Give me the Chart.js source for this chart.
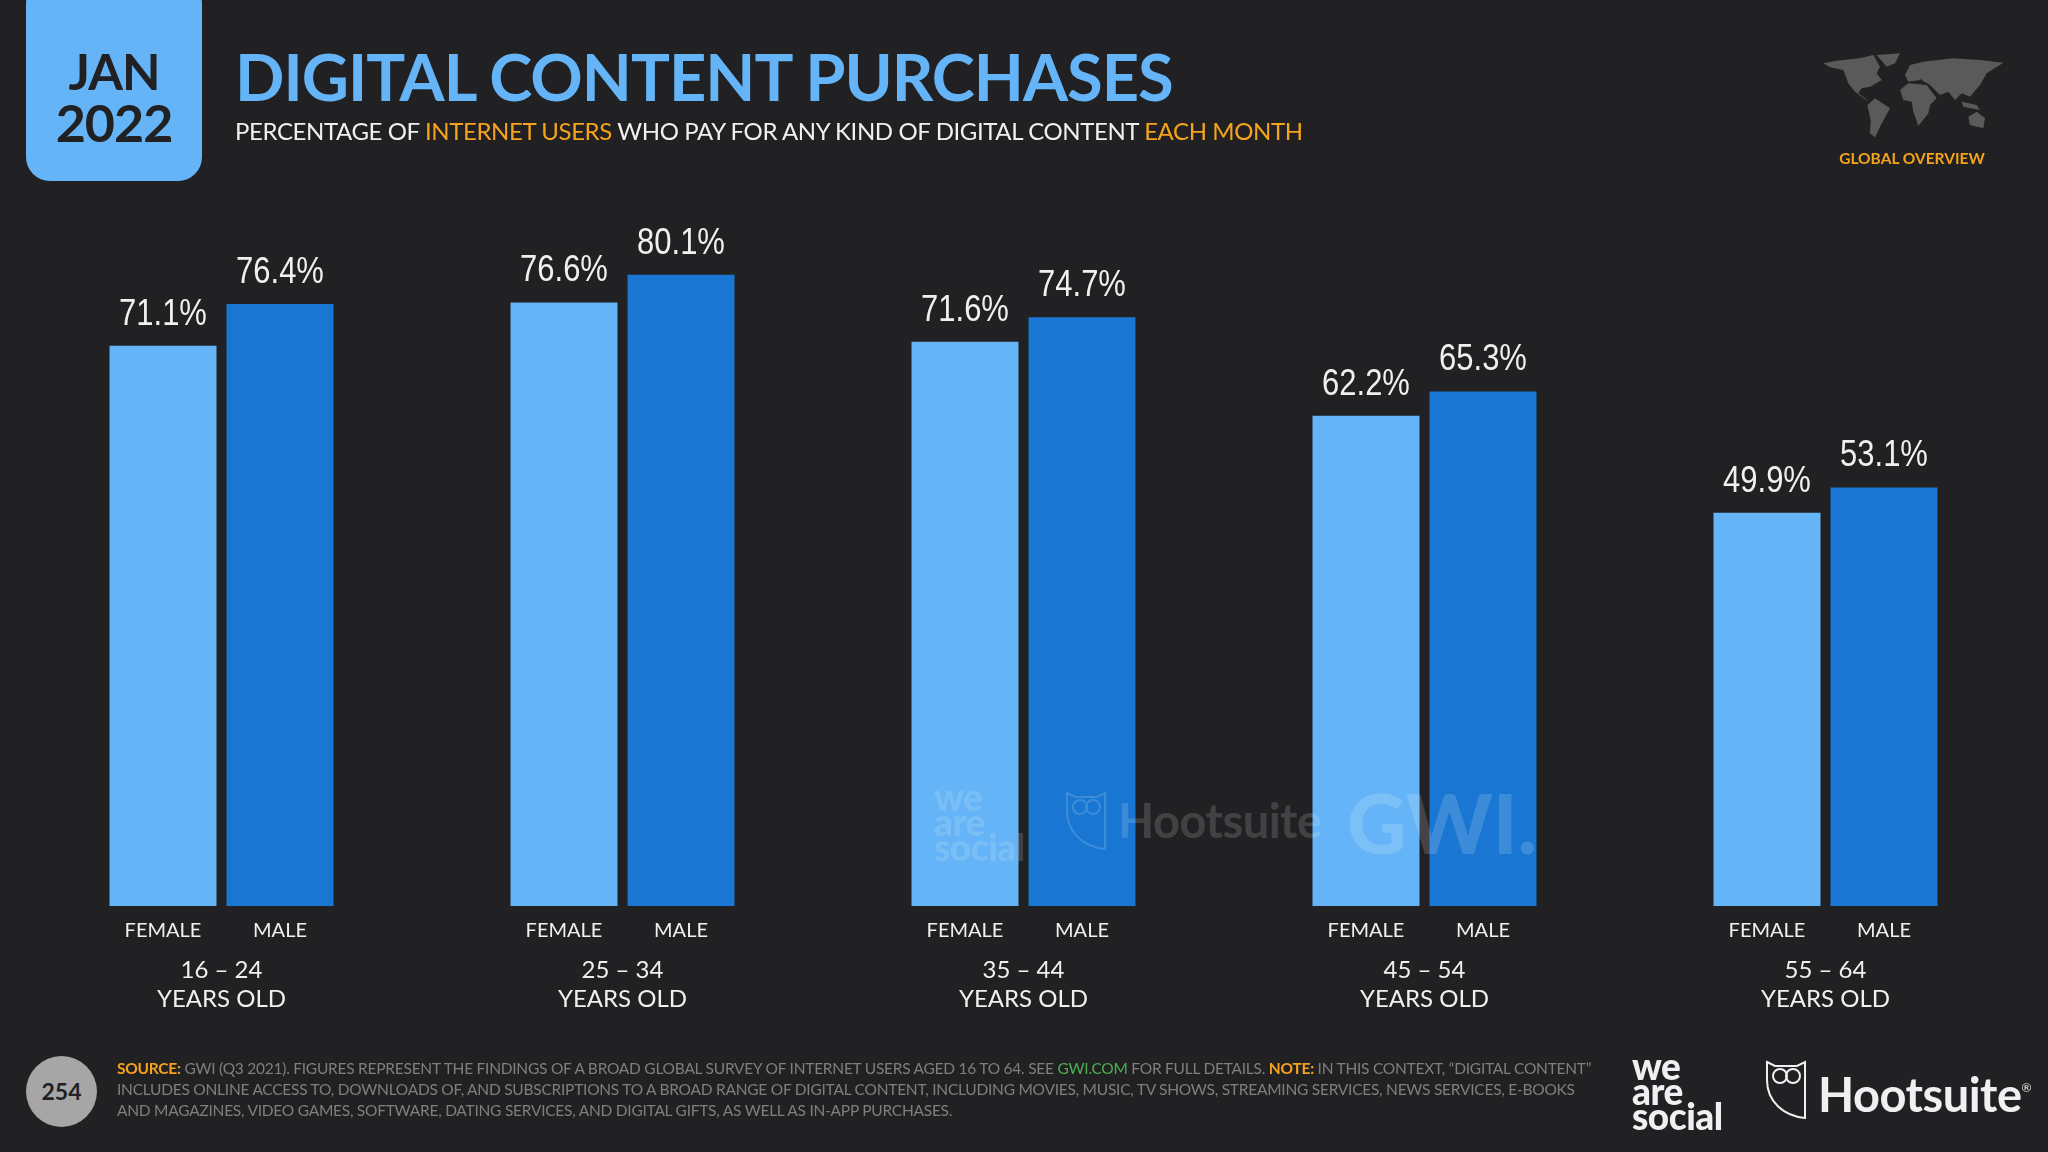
<!DOCTYPE html>
<html>
<head>
<meta charset="utf-8">
<title>Digital content purchases</title>
<script src="https://cdn.jsdelivr.net/npm/chart.js@4"></script>
<style>
  html, body { margin: 0; background: #212123; }
  #page { position: relative; width: 2048px; height: 1152px; overflow: hidden; background: #212123; font-family: Lato, sans-serif; }
  #page canvas { position: absolute; left: 0; top: 0; }
  .t { position: absolute; white-space: nowrap; }
  .o { color: #f5a31c; }
  #badge { position: absolute; left: 26px; top: -20px; width: 176px; height: 201px; background: #64b4f7; border-radius: 24px; }
  #jan, #year { left: 26px; width: 176px; text-align: center; color: #212123; font-weight: 700; font-size: 50px; line-height: 50px; letter-spacing: -1px; }
  #jan { top: 46px; }
  #year { top: 97px; font-size: 52px; }
  #title { left: 235px; top: 38px; font-size: 65px; line-height: 76px; font-weight: 700; color: #64b4f7; letter-spacing: -1px; transform-origin: left; }
  #sub { left: 235px; top: 116px; font-size: 24px; line-height: 30px; color: #f0f0f0; letter-spacing: -.4px; }
  #sub .o, #notes .o { font-weight: 400; }
  #map { position: absolute; left: 1780px; top: 30px; width: 268px; height: 150px; }
  #region { left: 1780px; width: 264px; top: 149px; text-align: center; font-size: 15.5px; line-height: 18px; font-weight: 700; color: #f5a31c; }
  #pagenum { position: absolute; left: 26px; top: 1056px; width: 71px; height: 71px; line-height: 71px; border-radius: 50%; background: #a6a6a6; color: #212123; text-align: center; font-weight: 700; font-size: 23px; }
  #notes { left: 117px; top: 1058px; font-size: 15.5px; line-height: 21px; color: #7f7f7f; letter-spacing: -.25px; }
  #notes b { color: #f5a31c; }
  #notes .g { color: #4caf50; }
  .ws { font-weight: 900; color: #f0f0f2; font-size: 37px; line-height: 25px; letter-spacing: -.5px; }
  .hs { font-weight: 700; color: #f0f0f2; font-size: 47px; line-height: 50px; letter-spacing: -.5px; }
  .mark { opacity: .16; }
</style>
</head>
<body>
<div id="page">
  <canvas id="chart" width="2048" height="1152"></canvas>

  <div id="badge"></div>
  <div class="t" id="jan">JAN</div>
  <div class="t" id="year">2022</div>
  <div class="t" id="title">DIGITAL CONTENT PURCHASES</div>
  <div class="t" id="sub">PERCENTAGE OF <span class="o">INTERNET USERS</span> WHO PAY FOR ANY KIND OF DIGITAL CONTENT <span class="o">EACH MONTH</span></div>

  <svg id="map" viewBox="0 0 804 450" fill="#5a5a5a">
    <polygon points="130,100 170,92 240,85 280,75 300,110 290,130 305,150 270,170 245,175 235,190 255,205 265,215 225,185 205,160 190,120 150,112"/>
    <polygon points="290,75 360,70 345,100 320,110"/>
    <polygon points="262,225 285,205 330,235 300,290 285,322 270,310 272,270"/>
    <polygon points="360,180 385,160 440,165 470,205 450,225 445,250 415,288 400,245 395,215 370,210"/>
    <polygon points="375,135 390,105 430,95 440,130 420,150 385,155"/>
    <polygon points="430,95 520,85 600,90 670,98 620,130 600,165 570,200 545,190 525,210 505,185 480,195 450,165 425,150"/>
    <polygon points="565,260 590,245 615,265 610,295 570,285"/>
    <polygon points="545,215 590,225 600,240 550,230"/>
  </svg>
  <div class="t" id="region">GLOBAL OVERVIEW</div>

  <div class="t mark ws" style="left:934px;top:784px;">we<br>are<br>social</div>
  <svg class="mark" style="position:absolute;left:1066px;top:791px;" width="40" height="60" viewBox="0 0 40 60" fill="none" stroke="#fff" stroke-width="2">
    <path d="M1 2 L9 6 H31 L39 2 V58 C18 56 1 42 1 20 Z"/><circle cx="14" cy="16" r="7"/><circle cx="27" cy="16" r="7"/>
  </svg>
  <div class="t mark hs" style="left:1118px;top:795px;">Hootsuite</div>
  <div class="t mark" style="left:1347px;top:772px;font-size:82px;line-height:100px;font-weight:900;color:#fff;">GWI.</div>

  <div id="pagenum">254</div>
  <div class="t" id="notes"><b>SOURCE:</b> GWI (Q3 2021). FIGURES REPRESENT THE FINDINGS OF A BROAD GLOBAL SURVEY OF INTERNET USERS AGED 16 TO 64. SEE <span class="g">GWI.COM</span> FOR FULL DETAILS. <b>NOTE:</b> IN THIS CONTEXT, “DIGITAL CONTENT”<br>INCLUDES ONLINE ACCESS TO, DOWNLOADS OF, AND SUBSCRIPTIONS TO A BROAD RANGE OF DIGITAL CONTENT, INCLUDING MOVIES, MUSIC, TV SHOWS, STREAMING SERVICES, NEWS SERVICES, E-BOOKS<br>AND MAGAZINES, VIDEO GAMES, SOFTWARE, DATING SERVICES, AND DIGITAL GIFTS, AS WELL AS IN-APP PURCHASES.</div>

  <div class="t ws" style="left:1632px;top:1053px;">we<br>are<br>social</div>
  <svg style="position:absolute;left:1766px;top:1060px;" width="40" height="60" viewBox="0 0 40 60" fill="none" stroke="#f0f0f2" stroke-width="2">
    <path d="M1 2 L9 6 H31 L39 2 V58 C18 56 1 42 1 20 Z"/><circle cx="14" cy="16" r="7"/><circle cx="27" cy="16" r="7"/>
  </svg>
  <div class="t hs" style="left:1818px;top:1063px;">Hootsuite<span style="font-size:12px;vertical-align:20px;font-weight:400;">®</span></div>
</div>

<script>
const ageGroups = ['16 – 24', '25 – 34', '35 – 44', '45 – 54', '55 – 64'];
const ageSuffix = 'YEARS OLD';
const seriesNames = ['FEMALE', 'MALE'];
const femaleValues = [71.1, 76.6, 71.6, 62.2, 49.9];
const maleValues = [76.4, 80.1, 74.7, 65.3, 53.1];

const LIGHT_BLUE = '#64b4f7';
const DARK_BLUE = '#1976d2';
const TEXT = '#f0f0f0';

// value above each bar and the series name under it
const barLabels = {
    id: 'barLabels',
    afterDatasetsDraw(chart) {
        const ctx = chart.ctx;
        const bottom = chart.chartArea.bottom;
        ctx.save();
        ctx.textAlign = 'center';
        ctx.fillStyle = TEXT;
        chart.data.datasets.forEach((ds, i) => {
            chart.getDatasetMeta(i).data.forEach((bar, j) => {
                ctx.save();
                ctx.translate(bar.x, bar.y - 13);
                ctx.scale(0.86, 1);
                ctx.textBaseline = 'bottom';
                ctx.font = '400 36px "Liberation Sans Narrow", "Liberation Sans", sans-serif';
                ctx.fillText(ds.data[j].toFixed(1) + '%', 0, 0);
                ctx.restore();

                ctx.textBaseline = 'middle';
                ctx.font = '400 20px Lato, sans-serif';
                ctx.fillText(ds.label, bar.x, bottom + 25);
            });
        });
        ctx.restore();
    }
};

new Chart(document.getElementById('chart'), {
    type: 'bar',
    data: {
        labels: ageGroups.map(a => [a, ageSuffix]),
        datasets: [
            { label: seriesNames[0], data: femaleValues, backgroundColor: LIGHT_BLUE },
            { label: seriesNames[1], data: maleValues, backgroundColor: DARK_BLUE }
        ]
    },
    options: {
        responsive: false,
        animation: false,
        devicePixelRatio: 1,
        categoryPercentage: 0.5835,
        barPercentage: 0.9145,
        layout: { padding: { left: 21, right: 22, top: 118, bottom: 0 } },
        plugins: { legend: { display: false }, tooltip: { enabled: false } },
        scales: {
            x: {
                grid: { display: false, drawTicks: false },
                border: { display: false },
                afterFit: scale => { scale.height = 246; },
                ticks: {
                    padding: 50,
                    maxRotation: 0,
                    autoSkip: false,
                    color: TEXT,
                    font: { family: 'Lato, sans-serif', size: 24, lineHeight: 1.2 }
                }
            },
            y: { display: false, min: 0, max: 100 }
        }
    },
    plugins: [barLabels]
});
</script>
</body>
</html>
